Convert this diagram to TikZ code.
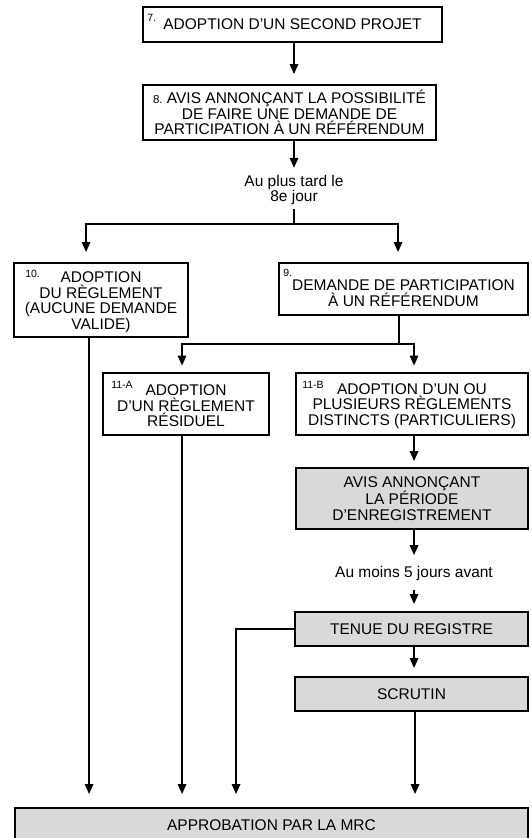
\documentclass[tikz,border=0pt]{standalone}
\usepackage{fontspec}
\setmainfont{Liberation Sans}
\usetikzlibrary{arrows.meta}

\begin{document}
\begin{tikzpicture}[x=1pt,y=-1pt,
  box/.style={draw,line width=1.9pt,align=center,inner sep=0pt,
    font=\fontsize{15.5}{15.5}\selectfont},
  shaded/.style={box,fill=black!15},
  lbl/.style={font=\fontsize{15.5}{12.5}\selectfont,align=center,inner sep=0pt},
  tag/.style={font=\fontsize{10.5}{11}\selectfont,inner sep=0pt,anchor=north west},
  link/.style={line width=1.6pt},
  arr/.style={link,-{Triangle[width=8.5pt,length=10pt]}},
]
\clip (0,0) rectangle (531,838);
\useasboundingbox (0,0) rectangle (531,838);

% upper boxes
\node[box,minimum width=299pt,minimum height=35pt] (b7) at (292.5,24.5)
  {ADOPTION D’UN SECOND PROJET};
\node[tag] (n7) at ([xshift=5pt,yshift=-8pt]b7.north west) {7.};

\node[box,minimum width=293pt,minimum height=55pt] (b8) at (289.5,112.5)
  {{\fontsize{11.5}{12}\selectfont 8.}\ AVIS ANNONÇANT LA POSSIBILITÉ\\
   DE FAIRE UNE DEMANDE DE\\PARTICIPATION À UN RÉFÉRENDUM};

\node[lbl] (t1) at (294,190) {Au plus tard le\\8e jour};
\coordinate (j1) at (294,224);

% first branch
\node[box,minimum width=174pt,minimum height=74pt] (b10) at (101,300)
  {\rule{0pt}{15pt}ADOPTION\\DU RÈGLEMENT\\(AUCUNE DEMANDE\\VALIDE)};
\node[tag] (n10) at ([xshift=12pt,yshift=-8pt]b10.north west) {10.};

\node[box,minimum width=249pt,minimum height=52pt] (b9) at (403.5,289)
  {\rule{0pt}{19pt}DEMANDE DE PARTICIPATION\\À UN RÉFÉRENDUM};
\node[tag] (n9) at ([xshift=5pt,yshift=-7pt]b9.north west) {9.};
\coordinate (j2) at (399,344);

% second branch
\node[box,minimum width=166pt,minimum height=62pt] (b11a) at (186,404)
  {\rule{0pt}{15pt}ADOPTION\\D’UN RÈGLEMENT\\RÉSIDUEL};
\node[tag] (n11a) at ([xshift=9pt,yshift=-9pt]b11a.north west) {11-A};

\node[box,minimum width=232pt,minimum height=62pt] (b11b) at (412,404)
  {\rule{0pt}{15pt}ADOPTION D’UN OU\\PLUSIEURS RÈGLEMENTS\\DISTINCTS (PARTICULIERS)};
\node[tag] (n11b) at ([xshift=7pt,yshift=-9pt]b11b.north west) {11-B};

% registration sequence
\node[shaded,minimum width=232pt,minimum height=61pt] (avis) at (412,498.5)
  {AVIS ANNONÇANT\\LA PÉRIODE\\D’ENREGISTREMENT};
\node[lbl] (t2) at (414,573.5) {Au moins 5 jours avant};
\node[shaded,minimum width=233pt,minimum height=34pt] (reg) at (411.5,629)
  {TENUE DU REGISTRE};
\node[shaded,minimum width=233pt,minimum height=34pt] (scr) at (411.5,694)
  {SCRUTIN};

\node[shaded,minimum width=513pt,minimum height=34pt] (mrc) at (271.5,825)
  {APPROBATION PAR LA MRC};

% connectors: main trunk
\draw[arr,shorten >=10pt] (b7.south -| j1) -- (b8.north -| j1);
\draw[arr,shorten >=7pt] (b8.south -| j1) -- (t1.north -| j1);
\draw[link,shorten <=4pt] (t1.south -| j1) -- (j1);
\draw[arr,shorten >=10pt] (j1) -| ([xshift=73pt]b10.north west);
\draw[arr,shorten >=10pt] (j1) -| ([xshift=120pt]b9.north west);

% split after the request
\draw[link] (b9.south -| j2) -- (j2);
\draw[arr,shorten >=6.5pt] (j2) -| ([xshift=80pt]b11a.north west);
\draw[arr,shorten >=6.5pt] (j2) -| ([xshift=119pt]b11b.north west);

% right-hand column
\draw[arr,shorten >=6pt] ([xshift=119pt]b11b.south west) -- ([xshift=119pt]avis.north west);
\draw[arr,shorten >=11pt] ([xshift=119pt]avis.south west) -- ([xshift=119pt]avis.south west |- t2.north);
\draw[arr,shorten <=9pt,shorten >=7pt] ([xshift=120pt]reg.north west |- t2.south) -- ([xshift=120pt]reg.north west);
\draw[arr,shorten >=8pt] ([xshift=120pt]reg.south west) -- ([xshift=120pt]scr.north west);

% arrows into the approval box
\draw[arr,shorten >=13pt] ([xshift=76pt]b10.south west) -- ([xshift=76pt]b10.south west |- mrc.north);
\draw[arr,shorten >=13pt] ([xshift=80pt]b11a.south west) -- ([xshift=80pt]b11a.south west |- mrc.north);
\draw[arr,shorten >=13pt] (reg.west) -| ([xshift=222pt]mrc.north west);
\draw[arr,shorten >=13pt] ([xshift=121pt]scr.south west) -- ([xshift=121pt]scr.south west |- mrc.north);
\end{tikzpicture}
\end{document}
